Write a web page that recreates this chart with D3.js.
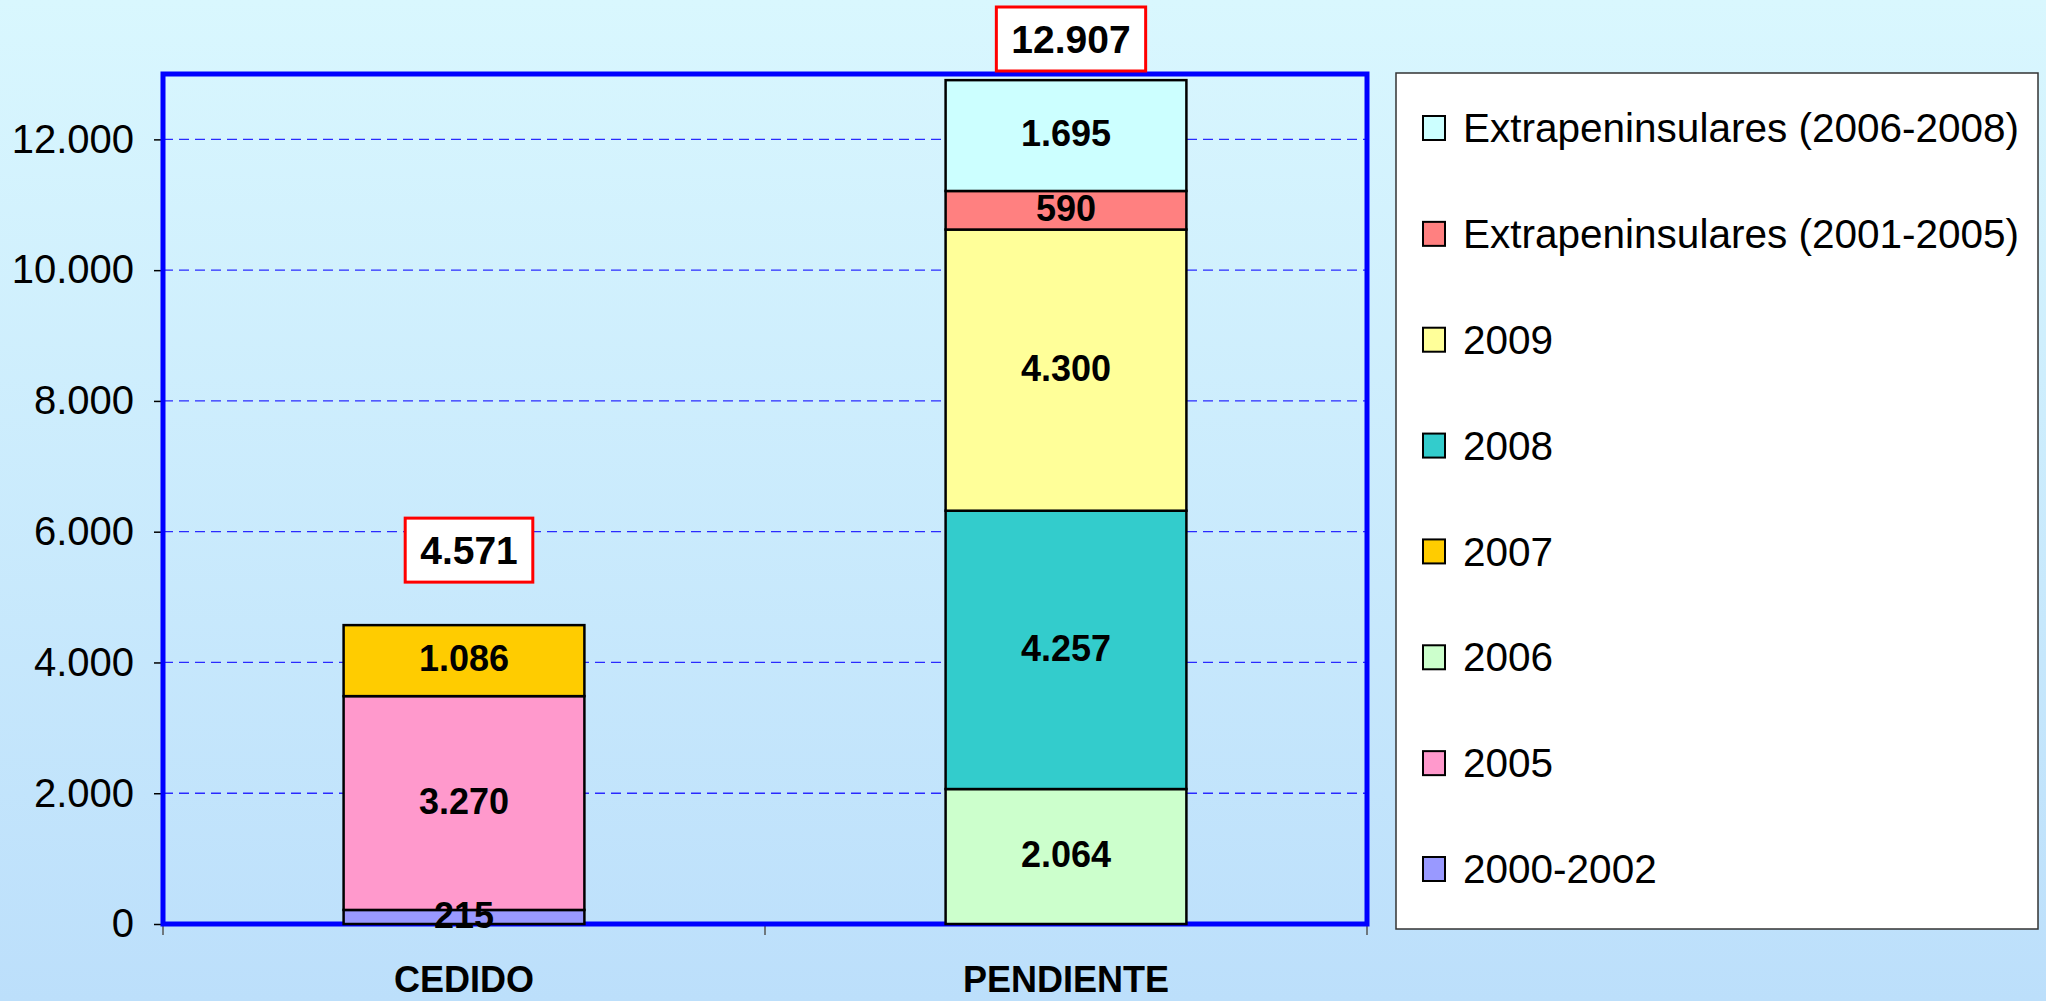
<!DOCTYPE html>
<html lang="es">
<head>
<meta charset="UTF-8">
<title>Cedido / Pendiente</title>
<style>
  body { margin: 0; }
  svg { display: block; font-family: "Liberation Sans", Arial, sans-serif; }
</style>
</head>
<body>
<svg width="2046" height="1001"></svg>
<script src="https://d3js.org/d3.v7.min.js"></script>
<script>
// Data
const categories = ["CEDIDO", "PENDIENTE"];
const seriesNames = ["2000-2002", "2005", "2006", "2007", "2008", "2009",
  "Extrapeninsulares (2001-2005)", "Extrapeninsulares (2006-2008)"];
const seriesColors = ["#9999ff", "#ff99cc", "#ccffcc", "#ffcc00", "#33cccc", "#ffff99", "#ff8080", "#ccffff"];
const cedidoValues = [215, 3270, 0, 1086, 0, 0, 0, 0];
const pendienteValues = [0, 0, 2064, 0, 4257, 4300, 590, 1695];
const totals = [4571, 12907];
const yTicks = [0, 2000, 4000, 6000, 8000, 10000, 12000];

const W = 2046, H = 1001;
const plot = { left: 163, right: 1367, top: 74, bottom: 924 };

const svg = d3.select("svg");
const fmt = d3.formatLocale({ decimal: ",", thousands: ".", grouping: [3], currency: ["", ""] }).format(",");

// background
const defs = svg.append("defs");
const grad = defs.append("linearGradient").attr("id", "bg").attr("x1", 0).attr("y1", 0).attr("x2", 0).attr("y2", 1);
grad.append("stop").attr("offset", "0%").attr("stop-color", "#d9f7fe");
grad.append("stop").attr("offset", "100%").attr("stop-color", "#bcdffb");
svg.append("rect").attr("width", W).attr("height", H).attr("fill", "url(#bg)");

// scales
const x = d3.scaleBand().domain(categories).range([plot.left, plot.right])
  .paddingInner(0.6).paddingOuter(0.3);
const y = d3.scaleLinear().domain([0, 13000]).range([plot.bottom, plot.top]);

// table for stacking
const rows = categories.map((c, i) => {
  const r = { cat: c };
  seriesNames.forEach((s, j) => { r[s] = i === 0 ? cedidoValues[j] : pendienteValues[j]; });
  return r;
});
const stacked = d3.stack().keys(seriesNames)(rows);
const color = d3.scaleOrdinal().domain(seriesNames).range(seriesColors);

// gridlines
svg.append("g").selectAll("line")
  .data(yTicks.filter(d => d > 0))
  .join("line")
  .attr("x1", plot.left).attr("x2", plot.right)
  .attr("y1", d => y(d)).attr("y2", d => y(d))
  .attr("stroke", "#2a2aff").attr("stroke-width", 1.3)
  .attr("stroke-dasharray", "10,6");

// y axis
const yAxis = svg.append("g")
  .attr("transform", "translate(" + plot.left + ",0)")
  .call(d3.axisLeft(y).tickValues(yTicks).tickSize(9).tickPadding(20).tickFormat(fmt));
yAxis.select(".domain").remove();
yAxis.selectAll(".tick line").attr("stroke", "#000").attr("stroke-width", 1.5);
yAxis.selectAll(".tick text").attr("font-size", 40).attr("font-family", "Liberation Sans, Arial, sans-serif").attr("fill", "#000");

// category boundary ticks
const x0 = x.range()[0], x1 = x.range()[1];
svg.append("g").selectAll("line")
  .data([x0, (x0 + x1) / 2, x1])
  .join("line")
  .attr("x1", d => d).attr("x2", d => d)
  .attr("y1", plot.bottom).attr("y2", plot.bottom + 11)
  .attr("stroke", "#555").attr("stroke-width", 1.5);

// frame
svg.append("rect")
  .attr("x", plot.left).attr("y", y(13000))
  .attr("width", plot.right - plot.left).attr("height", y(0) - y(13000))
  .attr("fill", "none").attr("stroke", "#0000ff").attr("stroke-width", 5);

// bars
const layers = svg.append("g").selectAll("g")
  .data(stacked)
  .join("g")
  .attr("fill", d => color(d.key));

layers.selectAll("rect")
  .data(d => d.filter(s => s[1] - s[0] > 0))
  .join("rect")
  .attr("x", d => x(d.data.cat))
  .attr("width", x.bandwidth())
  .attr("y", d => y(d[1]))
  .attr("height", d => y(d[0]) - y(d[1]))
  .attr("stroke", "#000")
  .attr("stroke-width", 2.5);

// segment labels (on top of everything)
const segs = stacked.flatMap(layer => layer.filter(s => s[1] - s[0] > 0));
svg.append("g").selectAll("text")
  .data(segs)
  .join("text")
  .attr("x", d => x(d.data.cat) + x.bandwidth() / 2)
  .attr("y", d => (y(d[0]) + y(d[1])) / 2)
  .attr("dy", "0.3em")
  .attr("text-anchor", "middle")
  .attr("font-size", 36).attr("font-weight", "bold").attr("fill", "#000")
  .text(d => fmt(d[1] - d[0]));

// category labels
svg.append("g").selectAll("text")
  .data(categories)
  .join("text")
  .attr("x", d => x(d) + x.bandwidth() / 2)
  .attr("y", 992)
  .attr("text-anchor", "middle")
  .attr("font-size", 36).attr("font-weight", "bold")
  .text(d => d);

// total boxes
const totalG = svg.append("g").selectAll("g")
  .data(categories)
  .join("g")
  .attr("transform", (d, i) => "translate(" + (x(d) + x.bandwidth() / 2 + 5) + "," + Math.max(y(totals[i]) - 75, 39) + ")");
totalG.append("rect");
totalG.append("text")
  .attr("text-anchor", "middle").attr("dy", "0.35em")
  .attr("font-size", 39).attr("font-weight", "bold")
  .text((d, i) => fmt(totals[i]));
totalG.each(function() {
  const g = d3.select(this);
  const bb = g.select("text").node().getBBox();
  g.select("rect")
    .attr("x", -bb.width / 2 - 15).attr("y", -32)
    .attr("width", bb.width + 30).attr("height", 64)
    .attr("fill", "#fff").attr("stroke", "#ff0000").attr("stroke-width", 3);
});

// legend
const legendOrder = seriesNames.slice().reverse();
const ly = d3.scalePoint().domain(legendOrder).range([128, 869]);
svg.append("rect")
  .attr("x", 1396).attr("y", 73).attr("width", 642).attr("height", 856)
  .attr("fill", "#fff").attr("stroke", "#333").attr("stroke-width", 1.5);
const li = svg.append("g").selectAll("g")
  .data(legendOrder)
  .join("g")
  .attr("transform", d => "translate(1423," + ly(d) + ")");
li.append("rect")
  .attr("x", 0).attr("y", -12).attr("width", 22).attr("height", 24)
  .attr("fill", d => color(d)).attr("stroke", "#000").attr("stroke-width", 2);
li.append("text")
  .attr("x", 40).attr("dy", "0.35em")
  .attr("font-size", 40.5)
  .text(d => d);
</script>
</body>
</html>
